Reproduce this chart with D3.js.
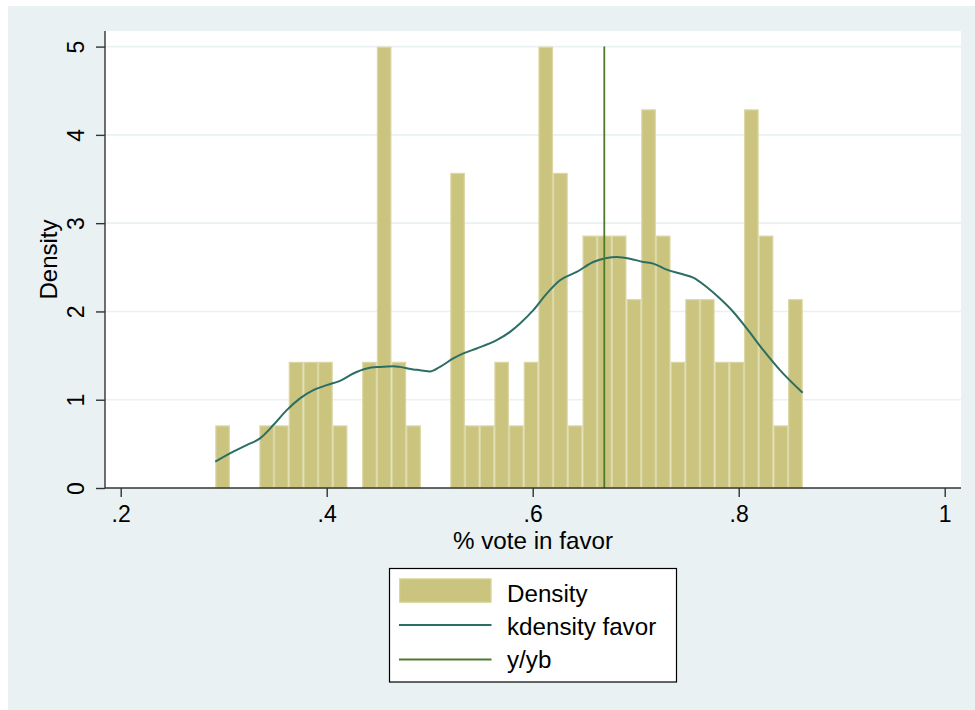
<!DOCTYPE html>
<html>
<head>
<meta charset="utf-8">
<script src="https://cdn.jsdelivr.net/npm/d3@7"></script>
<style>
  html, body { margin: 0; padding: 0; background: #ffffff; }
  svg { display: block; font-family: "Liberation Sans", Arial, Helvetica, sans-serif; }
</style>
</head>
<body>
<svg id="chart" width="975" height="710"></svg>
<script>
// Histogram of vote share: 40 bins of equal width starting at binStart
const binStart = 0.2918;
const binWidth = 0.01426;
const densities = [
  0.71, 0, 0, 0.71, 0.71, 1.43, 1.43, 1.43, 0.71, 0,
  1.43, 5.0, 1.43, 0.71, 0, 0, 3.57, 0.71, 0.71, 1.43,
  0.71, 1.43, 5.0, 3.57, 0.71, 2.86, 2.86, 2.86, 2.14, 4.29,
  2.86, 1.43, 2.14, 2.14, 1.43, 1.43, 4.29, 2.86, 0.71, 2.14
];

// Kernel density estimate of the same variable
const kdeX = [
  0.2918, 0.3093, 0.3223, 0.3352, 0.3482, 0.3612, 0.3741, 0.3870, 0.4000, 0.4129,
  0.4258, 0.4388, 0.4517, 0.4647, 0.4712, 0.4841, 0.4906, 0.5003, 0.5100, 0.5229,
  0.5327, 0.5456, 0.5650, 0.5780, 0.5877, 0.6006, 0.6136, 0.6265, 0.6427, 0.6588,
  0.6718, 0.6816, 0.6945, 0.7074, 0.7171, 0.7301, 0.7430, 0.7559, 0.7689, 0.7818,
  0.7948, 0.8078, 0.8239, 0.8401, 0.8621
];
const kdeY = [
  0.298, 0.411, 0.486, 0.562, 0.713, 0.882, 1.015, 1.109, 1.165, 1.214,
  1.297, 1.354, 1.372, 1.380, 1.372, 1.343, 1.335, 1.320, 1.372, 1.467,
  1.524, 1.580, 1.674, 1.768, 1.863, 2.014, 2.202, 2.353, 2.447, 2.560,
  2.605, 2.617, 2.598, 2.560, 2.542, 2.474, 2.429, 2.383, 2.277, 2.146,
  1.994, 1.807, 1.561, 1.335, 1.078
];

// Reference line y/yb
const refX = 0.6695;
const refY = [0, 5];

// Axis ticks
const xTicks = [0.2, 0.4, 0.6, 0.8, 1.0];
const xTickLabels = [".2", ".4", ".6", ".8", "1"];
const yTicks = [0, 1, 2, 3, 4, 5];
const yTickLabels = ["0", "1", "2", "3", "4", "5"];

const legendLabels = ["Density", "kdensity favor", "y/yb"];

const colors = {
  region: "#e9f1f3",
  grid: "#e9f1f3",
  barFill: "#cac47f",
  barEdge: "#dbd7a5",
  kde: "#2b6e64",
  ref: "#4e7a2a",
  axis: "#333333"
};

const svg = d3.select("#chart");
const plot = { left: 105, right: 961, top: 31, bottom: 488 };

const x = d3.scaleLinear().domain([0.2, 1]).range([120.7, 944.7]);
const y = d3.scaleLinear().domain([0, 5]).range([488, 46.6]);

// graph region background
svg.append("rect")
  .attr("x", 8).attr("y", 6)
  .attr("width", 975 - 8).attr("height", 710 - 6)
  .attr("fill", colors.region);

// plot region
svg.append("rect")
  .attr("x", plot.left).attr("y", plot.top)
  .attr("width", plot.right - plot.left).attr("height", plot.bottom - plot.top)
  .attr("fill", "#ffffff");

// horizontal grid lines
svg.append("g")
  .selectAll("line")
  .data(yTicks.filter(d => d > 0))
  .join("line")
  .attr("x1", plot.left).attr("x2", plot.right)
  .attr("y1", d => y(d)).attr("y2", d => y(d))
  .attr("stroke", colors.grid)
  .attr("stroke-width", 1.6);

// histogram bars
const bins = densities.map((d, i) => ({
  x0: binStart + i * binWidth,
  x1: binStart + (i + 1) * binWidth,
  d
})).filter(b => b.d > 0);

svg.append("g")
  .selectAll("rect")
  .data(bins)
  .join("rect")
  .attr("x", b => x(b.x0) + 0.6)
  .attr("width", b => x(b.x1) - x(b.x0) - 1.2)
  .attr("y", b => y(b.d) + 0.6)
  .attr("height", b => y(0) - y(b.d) - 0.6)
  .attr("fill", colors.barFill)
  .attr("stroke", colors.barEdge)
  .attr("stroke-width", 1.2);

// kernel density curve
const kdePoints = kdeX.map((v, i) => [v, kdeY[i]]);
svg.append("path")
  .datum(kdePoints)
  .attr("fill", "none")
  .attr("stroke", colors.kde)
  .attr("stroke-width", 2)
  .attr("stroke-linejoin", "round")
  .attr("d", d3.line().x(d => x(d[0])).y(d => y(d[1])).curve(d3.curveMonotoneX));

// reference line
svg.append("line")
  .attr("x1", x(refX)).attr("x2", x(refX))
  .attr("y1", y(refY[0])).attr("y2", y(refY[1]))
  .attr("stroke", colors.ref)
  .attr("stroke-width", 1.8);

// x axis
const xAxis = d3.axisBottom(x)
  .tickValues(xTicks)
  .tickFormat((d, i) => xTickLabels[i])
  .tickSize(9)
  .tickSizeOuter(0)
  .tickPadding(6);

const gx = svg.append("g")
  .attr("transform", `translate(0,${plot.bottom})`)
  .call(xAxis);
gx.select(".domain").attr("d", `M${plot.left},0H${plot.right}`)
  .attr("stroke", colors.axis).attr("stroke-width", 1.4);
gx.selectAll(".tick line").attr("stroke", colors.axis).attr("stroke-width", 1.4);
gx.selectAll(".tick text")
  .attr("font-size", 23)
  .attr("font-family", "'Liberation Sans', Arial, Helvetica, sans-serif")
  .attr("fill", "#000")
  .attr("dy", null)
  .attr("y", 34);

// y axis
const yAxis = d3.axisLeft(y)
  .tickValues(yTicks)
  .tickFormat((d, i) => yTickLabels[i])
  .tickSize(9)
  .tickSizeOuter(0);

const gy = svg.append("g")
  .attr("transform", `translate(${plot.left},0)`)
  .call(yAxis);
gy.select(".domain").attr("d", `M0,${plot.bottom}V${plot.top}`)
  .attr("stroke", colors.axis).attr("stroke-width", 1.4);
gy.selectAll(".tick line").attr("stroke", colors.axis).attr("stroke-width", 1.4);
gy.selectAll(".tick text")
  .attr("font-size", 23)
  .attr("font-family", "'Liberation Sans', Arial, Helvetica, sans-serif")
  .attr("fill", "#000")
  .attr("x", null).attr("dy", null)
  .attr("text-anchor", "middle")
  .attr("transform", "translate(-21.5,0) rotate(-90)");

// axis titles
svg.append("text")
  .attr("x", (plot.left + plot.right) / 2)
  .attr("y", 549)
  .attr("text-anchor", "middle")
  .attr("font-size", 24.2)
  .text("% vote in favor");

svg.append("text")
  .attr("transform", `translate(56.5,${(plot.top + plot.bottom) / 2}) rotate(-90)`)
  .attr("text-anchor", "middle")
  .attr("font-size", 24)
  .text("Density");

// legend
const legend = svg.append("g");
legend.append("rect")
  .attr("x", 389.5).attr("y", 568.5)
  .attr("width", 287).attr("height", 113.5)
  .attr("fill", "#ffffff")
  .attr("stroke", "#000")
  .attr("stroke-width", 1.2);

legend.append("rect")
  .attr("x", 399.6).attr("y", 578.8)
  .attr("width", 91.5).attr("height", 23.5)
  .attr("fill", colors.barFill)
  .attr("stroke", colors.barEdge)
  .attr("stroke-width", 1.2);

legend.append("line")
  .attr("x1", 399).attr("x2", 491.5)
  .attr("y1", 625).attr("y2", 625)
  .attr("stroke", colors.kde).attr("stroke-width", 2);

legend.append("line")
  .attr("x1", 399).attr("x2", 491.5)
  .attr("y1", 659.5).attr("y2", 659.5)
  .attr("stroke", colors.ref).attr("stroke-width", 1.8);

legend.selectAll("text.lab")
  .data(legendLabels)
  .join("text")
  .attr("class", "lab")
  .attr("x", 507)
  .attr("y", (d, i) => 601.5 + i * 33.4)
  .attr("font-size", 24.2)
  .attr("fill", "#000")
  .text(d => d);
</script>
</body>
</html>
